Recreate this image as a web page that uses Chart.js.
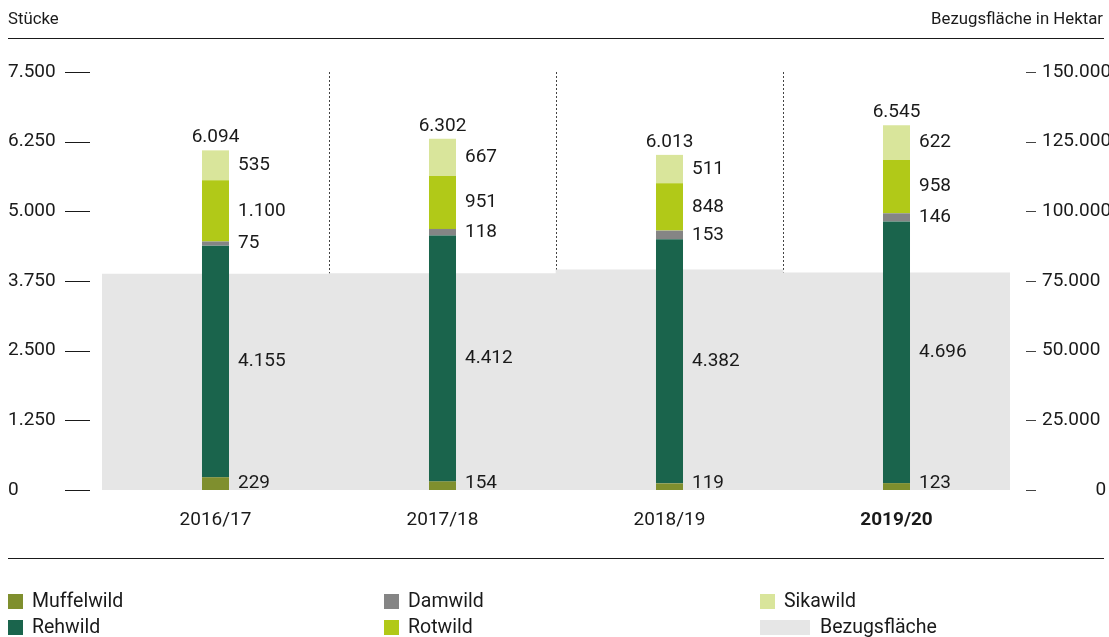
<!DOCTYPE html>
<html>
<head>
<meta charset="utf-8">
<script src="https://cdn.jsdelivr.net/npm/chart.js@4/dist/chart.umd.min.js"></script>
<style>
  html, body { margin:0; padding:0; background:#fff; }
  body { width:1109px; height:637px; position:relative; overflow:hidden; font-family: Roboto, "Noto Sans", sans-serif; color:#1a1a1a; }
  #c { position:absolute; left:0; top:0; }
  .hdr { position:absolute; top:8px; font-size:16.8px; }
  .rule { position:absolute; left:8px; width:1096px; height:1px; background:#1a1a1a; }
  .leg { position:absolute; font-size:19.5px; line-height:20px; }
  .sw { position:absolute; width:15px; height:15px; }
</style>
</head>
<body>
<canvas id="c" width="1109" height="637"></canvas>
<div class="hdr" style="left:8px;">Stücke</div>
<div class="hdr" style="right:6px;">Bezugsfläche in Hektar</div>
<div class="rule" style="top:38px;"></div>
<div class="rule" style="top:558px;"></div>
<div id="legend"></div>
<script>
const categories = ['2016/17', '2017/18', '2018/19', '2019/20'];
const muffelwild = [229, 154, 119, 123];
const rehwild = [4155, 4412, 4382, 4696];
const damwild = [75, 118, 153, 146];
const rotwild = [1100, 951, 848, 958];
const sikawild = [535, 667, 511, 622];
const bezugsflaeche = [77500, 77700, 79000, 77900];
const leftTicks = [0, 1250, 2500, 3750, 5000, 6250, 7500];
const rightTicks = [0, 25000, 50000, 75000, 100000, 125000, 150000];

const colors = {
  Muffelwild: '#7f8f2e', Rehwild: '#1a644c', Damwild: '#858585',
  Rotwild: '#b1c918', Sikawild: '#d9e59b', 'Bezugsfläche': '#e6e6e6'
};
const fmt = v => Math.round(v).toString().replace(/\B(?=(\d{3})+(?!\d))/g, '.');

// legend
const legendItems = [
  ['Muffelwild', 8, 594, 15], ['Rehwild', 8, 620, 15],
  ['Damwild', 384, 594, 15], ['Rotwild', 384, 620, 15],
  ['Sikawild', 760, 594, 15], ['Bezugsfläche', 760, 620, 50]
];
const lg = document.getElementById('legend');
legendItems.forEach(([name, x, y, w]) => {
  const s = document.createElement('div');
  s.className = 'sw'; s.style.left = x + 'px'; s.style.top = y + 'px'; s.style.width = w + 'px';
  s.style.background = colors[name];
  lg.appendChild(s);
  const t = document.createElement('div');
  t.className = 'leg'; t.textContent = name;
  t.style.left = (x + w + (w > 20 ? 10 : 9)) + 'px'; t.style.top = (y - 3) + 'px';
  lg.appendChild(t);
});

const stackSeries = [
  ['Muffelwild', muffelwild], ['Rehwild', rehwild], ['Damwild', damwild],
  ['Rotwild', rotwild], ['Sikawild', sikawild]
];
const datasets = stackSeries.map(([name, data]) => ({
  label: name, data, backgroundColor: colors[name], yAxisID: 'y',
  barPercentage: 0.119, categoryPercentage: 1, order: 0
}));
datasets.push({
  label: 'Bezugsfläche', data: bezugsflaeche, backgroundColor: colors['Bezugsfläche'],
  yAxisID: 'y2', grouped: false, barPercentage: 1, categoryPercentage: 1, order: 5
});

const FONT = 'Roboto, "Noto Sans", sans-serif';
const TEXT = '#1a1a1a';

const decor = {
  id: 'decor',
  beforeDatasetsDraw(chart) {
    const {ctx, chartArea, scales} = chart;
    const x = scales.x;
    const step = x.getPixelForValue(1) - x.getPixelForValue(0);
    ctx.save();
    ctx.strokeStyle = '#444';
    ctx.lineWidth = 1;
    ctx.setLineDash([2, 2]);
    for (let i = 0; i < categories.length - 1; i++) {
      const px = Math.round(x.getPixelForValue(i) + step / 2) + 0.5;
      ctx.beginPath(); ctx.moveTo(px, chartArea.top); ctx.lineTo(px, chartArea.bottom); ctx.stroke();
    }
    ctx.restore();
  },
  afterDraw(chart) {
    const {ctx, scales} = chart;
    ctx.save();
    ctx.strokeStyle = '#1a1a1a';
    ctx.lineWidth = 1;
    leftTicks.forEach(v => {
      const py = Math.round(scales.y.getPixelForValue(v)) + 0.5;
      ctx.beginPath(); ctx.moveTo(65, py); ctx.lineTo(90, py); ctx.stroke();
    });
    ctx.strokeStyle = '#444';
    rightTicks.forEach(v => {
      const py = Math.round(scales.y2.getPixelForValue(v)) + 0.5;
      ctx.beginPath(); ctx.moveTo(1026, py); ctx.lineTo(1036, py); ctx.stroke();
    });
    ctx.restore();
  },
  afterDatasetsDraw(chart) {
    const {ctx} = chart;
    ctx.save();
    ctx.font = '19px ' + FONT;
    ctx.fillStyle = TEXT;
    ctx.textBaseline = 'middle';
    ctx.textAlign = 'left';
    for (let d = 0; d < stackSeries.length; d++) {
      const meta = chart.getDatasetMeta(d);
      meta.data.forEach((bar, j) => {
        const val = stackSeries[d][1][j];
        let cy = (bar.y + bar.base) / 2;
        if (d === 0) cy = Math.min(cy, bar.base - 7);
        ctx.fillText(fmt(val), bar.x + bar.width / 2 + 9, cy);
      });
    }
    const topMeta = chart.getDatasetMeta(stackSeries.length - 1);
    ctx.textAlign = 'center';
    topMeta.data.forEach((bar, j) => {
      const total = stackSeries.reduce((s, [, arr]) => s + arr[j], 0);
      ctx.fillText(fmt(total), bar.x, bar.y - 13);
    });
    ctx.restore();
  }
};

new Chart(document.getElementById('c'), {
  type: 'bar',
  data: { labels: categories, datasets },
  plugins: [decor],
  options: {
    responsive: false,
    animation: false,
    layout: { padding: { top: 72, left: 8, right: 0, bottom: 0 } },
    plugins: { legend: { display: false }, tooltip: { enabled: false } },
    scales: {
      x: {
        stacked: true, offset: true,
        grid: { display: false, drawTicks: false }, border: { display: false },
        ticks: {
          color: TEXT, padding: 19,
          font: ctx => ({ family: FONT, size: 19, weight: ctx.index === 3 ? 'bold' : 'normal' })
        },
        afterFit: s => { s.height = 147; }
      },
      y: {
        stacked: true, position: 'left', min: 0, max: 7500,
        afterBuildTicks: s => { s.ticks = leftTicks.map(v => ({ value: v })); },
        grid: { display: false, drawTicks: false }, border: { display: false },
        ticks: { color: TEXT, crossAlign: 'far', font: { family: FONT, size: 19 }, callback: v => fmt(v) },
        afterFit: s => { s.width = 94; }
      },
      y2: {
        position: 'right', min: 0, max: 150000,
        afterBuildTicks: s => { s.ticks = rightTicks.map(v => ({ value: v })); },
        grid: { display: false, drawTicks: false }, border: { display: false },
        ticks: {
          color: TEXT, crossAlign: 'near', padding: 32, font: { family: FONT, size: 19 },
          callback: v => v === 0 ? '\u2007\u2007\u2007\u2007\u20070' : fmt(v)
        },
        afterFit: s => { s.width = 99; }
      }
    }
  }
});
</script>
</body>
</html>
